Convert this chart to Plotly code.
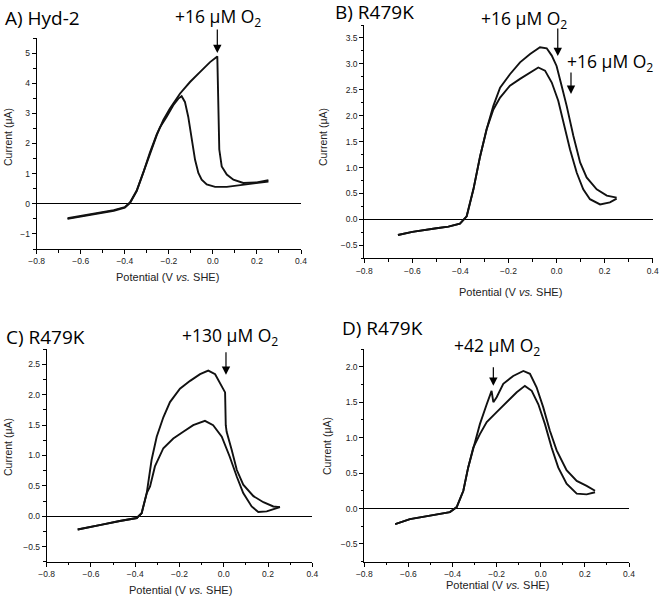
import plotly.graph_objects as go

W, H = 661, 599

# ---------------- data ----------------
# Panel A: Hyd-2
A_fwd_v = [-0.66, -0.60, -0.50, -0.45, -0.40, -0.376, -0.346, -0.316, -0.286, -0.255, -0.225, -0.195,
           -0.149, -0.104, -0.059, -0.013, 0.020, 0.024, 0.029, 0.040, 0.063, 0.093, 0.138, 0.199, 0.252]
A_fwd_i = [-0.50, -0.42, -0.30, -0.23, -0.13, 0.03, 0.42, 1.02, 1.68, 2.28, 2.78, 3.16,
           3.66, 4.04, 4.37, 4.70, 4.89, 3.00, 1.80, 1.24, 0.97, 0.80, 0.69, 0.71, 0.78]
A_rev_v = [0.252, 0.183, 0.123, 0.063, 0.010, -0.028, -0.051, -0.066, -0.081, -0.096, -0.112, -0.127,
           -0.142, -0.157, -0.180, -0.210, -0.240, -0.255, -0.286, -0.316, -0.346, -0.376, -0.40,
           -0.45, -0.50, -0.60, -0.66]
A_rev_i = [0.74, 0.67, 0.60, 0.56, 0.56, 0.64, 0.80, 1.02, 1.46, 2.12, 2.89, 3.38,
           3.57, 3.49, 3.27, 2.89, 2.54, 2.30, 1.70, 1.04, 0.44, 0.05, -0.11,
           -0.21, -0.28, -0.40, -0.48]

# Panel B: R479K, +16 uM O2
B_up_v = [-0.66, -0.60, -0.50, -0.45, -0.402, -0.374, -0.346, -0.318, -0.291, -0.263, -0.235, -0.194,
          -0.152, -0.110, -0.069, -0.041, -0.020, 0.000, 0.021, 0.042, 0.070, 0.098, 0.125, 0.167,
          0.209, 0.250]
B_up_i = [-0.30, -0.24, -0.17, -0.14, -0.08, 0.06, 0.58, 1.22, 1.74, 2.19, 2.54, 2.80,
          3.03, 3.19, 3.32, 3.30, 3.16, 2.96, 2.58, 2.19, 1.61, 1.10, 0.81, 0.58,
          0.46, 0.42]
B_lo_v = [-0.66, -0.60, -0.50, -0.45, -0.402, -0.374, -0.346, -0.318, -0.291, -0.263, -0.235, -0.194,
          -0.152, -0.110, -0.076, -0.048, -0.020, 0.007, 0.028, 0.056, 0.084, 0.111, 0.139, 0.181,
          0.222, 0.250]
B_lo_i = [-0.30, -0.24, -0.17, -0.14, -0.08, 0.06, 0.58, 1.22, 1.74, 2.12, 2.35, 2.58,
          2.71, 2.84, 2.93, 2.87, 2.64, 2.29, 1.90, 1.35, 0.90, 0.58, 0.39, 0.29,
          0.33, 0.40]

# Panel C: R479K, +130 uM O2
C_up_v = [-0.66, -0.60, -0.55, -0.47, -0.393, -0.371, -0.348, -0.326, -0.303, -0.273, -0.243, -0.198,
          -0.152, -0.107, -0.070, -0.039, -0.009, 0.006, 0.009, 0.013, 0.036, 0.059, 0.088, 0.134,
          0.179, 0.224, 0.254]
C_up_i = [-0.22, -0.18, -0.14, -0.08, -0.03, 0.05, 0.38, 0.93, 1.31, 1.63, 1.88, 2.10,
          2.23, 2.34, 2.40, 2.34, 2.15, 2.04, 1.50, 1.39, 1.09, 0.76, 0.52, 0.33,
          0.23, 0.16, 0.15]
C_lo_v = [-0.66, -0.60, -0.55, -0.47, -0.393, -0.371, -0.348, -0.333, -0.311, -0.273, -0.228, -0.183,
          -0.138, -0.085, -0.048, -0.009, 0.027, 0.059, 0.088, 0.126, 0.156, 0.194, 0.239, 0.254]
C_lo_i = [-0.22, -0.18, -0.14, -0.08, -0.03, 0.05, 0.38, 0.49, 0.82, 1.12, 1.28, 1.39,
          1.50, 1.57, 1.50, 1.31, 0.98, 0.65, 0.38, 0.16, 0.07, 0.08, 0.14, 0.15]

# Panel D: R479K, +42 uM O2
D_up_v = [-0.66, -0.593, -0.502, -0.412, -0.381, -0.351, -0.329, -0.306, -0.276, -0.245, -0.223, -0.215,
          -0.200, -0.170, -0.125, -0.079, -0.049, -0.019, 0.011, 0.041, 0.072, 0.117, 0.163, 0.208, 0.246]
D_up_i = [-0.22, -0.15, -0.10, -0.05, 0.02, 0.25, 0.58, 0.86, 1.19, 1.47, 1.66, 1.50,
          1.57, 1.76, 1.87, 1.94, 1.90, 1.71, 1.43, 1.10, 0.82, 0.54, 0.39, 0.32, 0.25]
D_lo_v = [-0.66, -0.593, -0.502, -0.412, -0.381, -0.351, -0.329, -0.306, -0.276, -0.245, -0.200, -0.155,
          -0.109, -0.072, -0.041, -0.011, 0.019, 0.049, 0.079, 0.117, 0.163, 0.208, 0.246]
D_lo_i = [-0.22, -0.15, -0.10, -0.05, 0.02, 0.25, 0.58, 0.86, 1.05, 1.22, 1.36, 1.50,
          1.64, 1.73, 1.66, 1.47, 1.19, 0.86, 0.58, 0.35, 0.21, 0.20, 0.23]

panel_labels = ["A) Hyd-2", "B) R479K", "C) R479K", "D) R479K"]
x_title = "Potential (V <i>vs.</i> SHE)"
y_title = "Current (μA)"

# ---------------- figure ----------------
fig = go.Figure()
LINE = dict(color="#111111", width=1.9)

traces = [
    (A_fwd_v, A_fwd_i, "x", "y"), (A_rev_v, A_rev_i, "x", "y"),
    (B_up_v, B_up_i, "x2", "y2"), (B_lo_v, B_lo_i, "x2", "y2"),
    (C_up_v, C_up_i, "x3", "y3"), (C_lo_v, C_lo_i, "x3", "y3"),
    (D_up_v, D_up_i, "x4", "y4"), (D_lo_v, D_lo_i, "x4", "y4"),
]
for v, i, xa, ya in traces:
    fig.add_trace(go.Scatter(x=v, y=i, mode="lines", line=LINE, xaxis=xa, yaxis=ya,
                             showlegend=False, hoverinfo="skip"))

def px(x):
    return x / W

def py(y):
    return 1 - y / H

TICKFONT = dict(family="Liberation Sans, Arial, sans-serif", size=8.5, color="#222")

def xaxis(x0, x1, anchor):
    return dict(domain=[px(x0), px(x1)], anchor=anchor, range=[-0.8, 0.4], dtick=0.2, tick0=-0.8,
                tickformat=".1f", showline=True, linecolor="black", linewidth=1, ticks="outside",
                ticklen=4, tickcolor="black", showgrid=False, zeroline=False, tickfont=TICKFONT,
                automargin=False,
                minor=dict(ticks="outside", ticklen=2.5, dtick=0.1, tickcolor="black"))

def yaxis(y0, y1, anchor, rng, dtick, mdtick, fmt):
    return dict(domain=[py(y1), py(y0)], anchor=anchor, range=rng, dtick=dtick, tick0=0,
                tickformat=fmt, showline=True, linecolor="black", linewidth=1, ticks="outside",
                ticklen=4, tickcolor="black", showgrid=False, zeroline=True, zerolinecolor="black",
                zerolinewidth=1, tickfont=TICKFONT, automargin=False,
                minor=dict(ticks="outside", ticklen=2.5, dtick=mdtick, tickcolor="black"))

fig.update_layout(
    width=W, height=H, margin=dict(l=0, r=0, t=0, b=0, autoexpand=False),
    paper_bgcolor="white", plot_bgcolor="white",
    xaxis=xaxis(36.7, 301, "y"),
    yaxis=yaxis(38, 249, "x", [-1.5, 5.5], 1, 0.5, "d"),
    xaxis2=xaxis(364.3, 652.7, "y2"),
    yaxis2=yaxis(25, 258.3, "x2", [-0.75, 3.75], 0.5, 0.25, ".1f"),
    xaxis3=xaxis(46.7, 312.3, "y3"),
    yaxis3=yaxis(349.3, 561.7, "x3", [-0.75, 2.75], 0.5, 0.25, ".1f"),
    xaxis4=xaxis(364.3, 629, "y4"),
    yaxis4=yaxis(349, 561.7, "x4", [-0.75, 2.25], 0.5, 0.25, ".1f"),
)

BIG = dict(family="Open Sans, Lato, sans-serif", size=17.5, color="black")
LABELF = dict(family="Open Sans, Lato, sans-serif", size=19, color="black")
TITLEF = dict(family="Liberation Sans, Arial, sans-serif", size=11, color="#222")
YTITLEF = dict(family="Liberation Sans, Arial, sans-serif", size=10.5, color="#222")

ann = []
# panel labels
for text, (x, y) in zip(panel_labels, [(3, 18), (333, 12), (4, 336.7), (340, 328)]):
    ann.append(dict(text=text, x=px(x), y=py(y), xref="paper", yref="paper", xanchor="left",
                    yanchor="middle", showarrow=False, font=LABELF))
# O2 labels
o2 = [("+16 μM O<sub>2</sub>", 218, 18), ("+16 μM O<sub>2</sub>", 523.7, 20),
      ("+16 μM O<sub>2</sub>", 610, 62), ("+130 μM O<sub>2</sub>", 230, 336.7),
      ("+42 μM O<sub>2</sub>", 496.7, 346.7)]
for text, x, y in o2:
    ann.append(dict(text=text, x=px(x), y=py(y), xref="paper", yref="paper", xanchor="center",
                    yanchor="middle", showarrow=False, font=BIG))
# arrows (tip in data coordinates)
arrows = [("x", "y", 0.02, 5.0, -25), ("x2", "y2", 0.005, 3.15, -29), ("x2", "y2", 0.060, 2.42, -23),
          ("x3", "y3", 0.010, 2.33, -24), ("x4", "y4", -0.215, 1.73, -20)]
for xr, yr, x, y, ay in arrows:
    ann.append(dict(text="", x=x, y=y, xref=xr, yref=yr, ax=0, ay=ay, showarrow=True,
                    arrowhead=2, arrowsize=1.4, arrowwidth=1.2, arrowcolor="black"))
# axis titles
for x, y in [(167, 277), (510, 292), (180, 590), (497, 585)]:
    ann.append(dict(text=x_title, x=px(x), y=py(y), xref="paper", yref="paper", xanchor="center",
                    yanchor="middle", showarrow=False, font=TITLEF))
for x, y in [(8, 137), (323, 137), (8, 447), (327, 446)]:
    ann.append(dict(text=y_title, x=px(x), y=py(y), xref="paper", yref="paper", xanchor="center",
                    yanchor="middle", showarrow=False, font=YTITLEF, textangle=-90))
fig.update_layout(annotations=ann)

fig.write_html("out.html", config={"displayModeBar": False},
               post_script="document.body.style.margin='0';document.body.style.overflow='hidden';")
